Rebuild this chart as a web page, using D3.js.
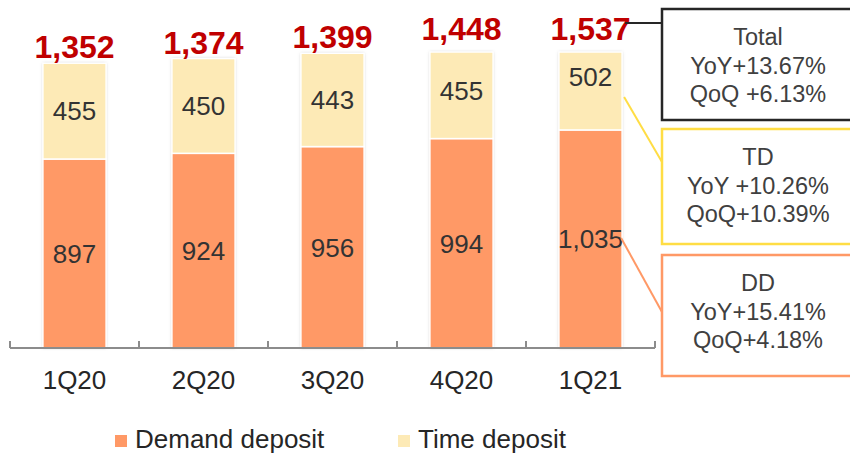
<!DOCTYPE html>
<html>
<head>
<meta charset="utf-8">
<script src="https://cdn.jsdelivr.net/npm/d3@7"></script>
<style>
  body { margin: 0; background: #fff; }
  svg { display: block; font-family: Arial, "Liberation Sans", sans-serif; }
</style>
</head>
<body>
<script>
// Data
const quarters = ["1Q20", "2Q20", "3Q20", "4Q20", "1Q21"];
const demandDeposit = [897, 924, 956, 994, 1035];
const timeDeposit = [455, 450, 443, 455, 502];
const totals = [1352, 1374, 1399, 1448, 1537];
const seriesNames = ["Demand deposit", "Time deposit"];
const noteTitles = ["Total", "TD", "DD"];
const noteYoY = ["YoY+13.67%", "YoY +10.26%", "YoY+15.41%"];
const noteQoQ = ["QoQ +6.13%", "QoQ+10.39%", "QoQ+4.18%"];

const width = 850, height = 455;
const colors = { dd: "#FF9966", td: "#FDEAB6", total: "#C00000", text: "#333333" };

const svg = d3.select("body").append("svg")
    .attr("width", width)
    .attr("height", height);

const defs = svg.append("defs");
defs.append("filter")
    .attr("id", "glow")
    .attr("x", "-20%").attr("y", "-10%")
    .attr("width", "140%").attr("height", "120%")
    .append("feDropShadow")
    .attr("dx", 0).attr("dy", 0)
    .attr("stdDeviation", 1.6)
    .attr("flood-color", "#999")
    .attr("flood-opacity", 0.6);

// Scales
const x = d3.scaleBand().domain(quarters).range([10, 655]).padding(0);
const barW = x.bandwidth() * 0.49;
const yRaw = d3.scaleLinear().domain([0, 1405]).range([348, 52]);
const y = yRaw.copy().clamp(true); // plot area clips the tallest bars

const rows = quarters.map((q, i) => ({
    q, dd: demandDeposit[i], td: timeDeposit[i], total: totals[i]
}));

// Bars
const bars = svg.append("g").selectAll("g")
    .data(rows)
    .join("g")
    .attr("transform", d => `translate(${x(d.q) + (x.bandwidth() - barW) / 2},0)`);

bars.append("rect")
    .attr("width", barW)
    .attr("y", d => y(d.dd + d.td))
    .attr("height", d => y(0) - y(d.dd + d.td))
    .attr("fill", "#fff")
    .attr("filter", "url(#glow)");

bars.append("rect")
    .attr("width", barW)
    .attr("y", d => y(d.dd))
    .attr("height", d => y(0) - y(d.dd))
    .attr("fill", colors.dd)
    .attr("stroke", "#fff")
    .attr("stroke-width", 1.5);

bars.append("rect")
    .attr("width", barW)
    .attr("y", d => y(d.dd + d.td))
    .attr("height", d => y(d.dd) - y(d.dd + d.td))
    .attr("fill", colors.td)
    .attr("stroke", "#fff")
    .attr("stroke-width", 1.5);

// Segment labels
bars.append("text")
    .attr("x", barW / 2)
    .attr("y", d => (yRaw(0) + yRaw(d.dd)) / 2)
    .attr("dy", "0.36em")
    .attr("text-anchor", "middle")
    .attr("font-size", 26)
    .attr("fill", colors.text)
    .text(d => d3.format(",")(d.dd));

bars.append("text")
    .attr("x", barW / 2)
    .attr("y", d => (yRaw(d.dd) + yRaw(d.dd + d.td)) / 2)
    .attr("dy", "0.36em")
    .attr("text-anchor", "middle")
    .attr("font-size", 26)
    .attr("fill", colors.text)
    .text(d => d3.format(",")(d.td));

// Totals
bars.append("text")
    .attr("x", barW / 2)
    .attr("y", d => Math.max(40, yRaw(d.total) - 5))
    .attr("text-anchor", "middle")
    .attr("font-size", 32)
    .attr("font-weight", "bold")
    .attr("fill", colors.total)
    .text(d => d3.format(",")(d.total));

// Axis
const axis = svg.append("g").attr("stroke", "#8c8c8c").attr("stroke-width", 2);
axis.append("line")
    .attr("x1", x.range()[0]).attr("x2", x.range()[1])
    .attr("y1", y(0)).attr("y2", y(0));
axis.selectAll("line.tick")
    .data(quarters.map(q => x(q)).concat([x.range()[1]]))
    .join("line")
    .attr("class", "tick")
    .attr("x1", d => d).attr("x2", d => d)
    .attr("y1", y(0) - 7).attr("y2", y(0));

svg.append("g").selectAll("text")
    .data(quarters)
    .join("text")
    .attr("x", d => x(d) + x.bandwidth() / 2)
    .attr("y", 389)
    .attr("text-anchor", "middle")
    .attr("font-size", 26)
    .attr("fill", "#262626")
    .text(d => d);

// Annotation boxes
const last = rows[rows.length - 1];
const lastRight = x(last.q) + (x.bandwidth() + barW) / 2;
const boxX = 662;
const notes = [
    { stroke: "#262626", sw: 2.5, top: 9, bottom: 120,
      from: [lastRight + 3, 23], to: [boxX, 23] },
    { stroke: "#FFDD44", sw: 2.5, top: 129, bottom: 244,
      from: [lastRight + 2, yRaw(last.dd + last.td / 2) + 20], to: [boxX, 162] },
    { stroke: "#FF9966", sw: 2.5, top: 255, bottom: 376,
      from: [lastRight - 1, yRaw(last.dd / 2) - 1], to: [boxX, 312] }
];

const ann = svg.append("g").selectAll("g")
    .data(notes)
    .join("g");

ann.append("line")
    .attr("x1", d => d.from[0]).attr("y1", d => d.from[1])
    .attr("x2", d => d.to[0]).attr("y2", d => d.to[1])
    .attr("stroke", d => d.stroke)
    .attr("stroke-width", 2);

ann.append("rect")
    .attr("x", boxX)
    .attr("y", d => d.top)
    .attr("width", 220)
    .attr("height", d => d.bottom - d.top)
    .attr("fill", "#fff")
    .attr("stroke", d => d.stroke)
    .attr("stroke-width", d => d.sw);

ann.each(function(d, i) {
    const g = d3.select(this);
    const lines = [noteTitles[i], noteYoY[i], noteQoQ[i]];
    const first = d.top + 36;
    g.selectAll("text")
        .data(lines)
        .join("text")
        .attr("x", 758)
        .attr("y", (_, j) => first + j * 28.5)
        .attr("text-anchor", "middle")
        .attr("font-size", 23.5)
        .attr("fill", "#404040")
        .text(t => t);
});

// Legend
const legendX = [115, 398];
const legend = svg.append("g").selectAll("g")
    .data(seriesNames)
    .join("g")
    .attr("transform", (_, i) => `translate(${legendX[i]},435)`);
legend.append("rect")
    .attr("width", 12).attr("height", 12)
    .attr("fill", (_, i) => i === 0 ? colors.dd : colors.td);
legend.append("text")
    .attr("x", 20).attr("y", 13)
    .attr("font-size", 26)
    .attr("fill", "#262626")
    .text(d => d);
</script>
</body>
</html>
